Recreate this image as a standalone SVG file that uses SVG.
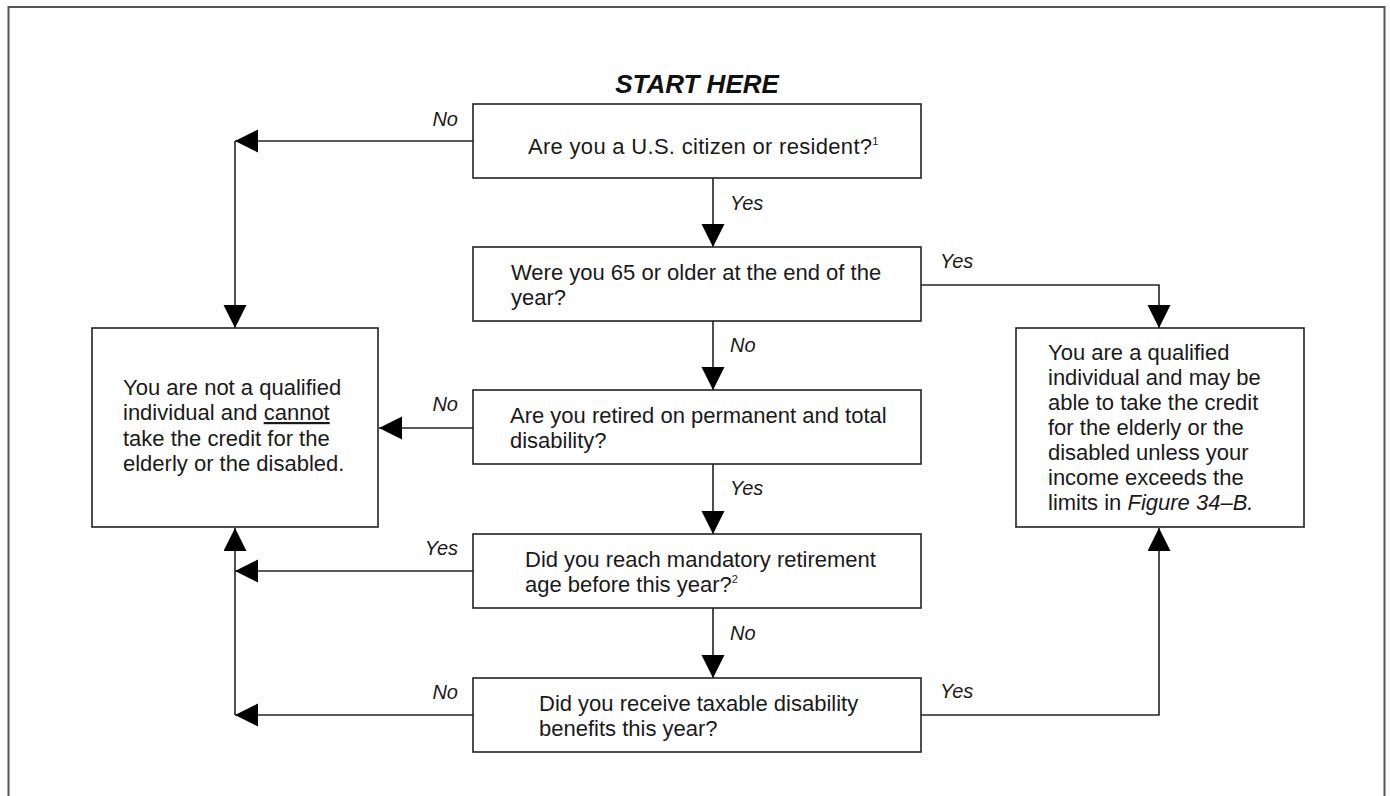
<svg xmlns="http://www.w3.org/2000/svg" width="1390" height="796" viewBox="0 0 1390 796">
<style>
.box{fill:#fff;stroke:#222;stroke-width:1.6}
.t{font-family:"Liberation Sans",Arial,sans-serif;font-size:22px;fill:#1a1a1a}
.lbl{font-family:"Liberation Sans",Arial,sans-serif;font-size:20px;font-style:italic;fill:#1a1a1a}
.sup{font-size:11px}
.c{fill:none;stroke:#222;stroke-width:1.6}
</style>
<defs>
<marker id="ah" markerUnits="userSpaceOnUse" markerWidth="24" markerHeight="24" refX="23" refY="11.5" orient="auto">
<path d="M0,0 L23,11.5 L0,23 z" fill="#000"/>
</marker>
</defs>
<rect width="1390" height="796" fill="#fff"/>
<path d="M8.5,800 V7 H1384.5 V800" fill="none" stroke="#555" stroke-width="2"/>
<text x="697" y="93" text-anchor="middle" style="font-family:'Liberation Sans',Arial,sans-serif;font-size:26px;font-weight:bold;font-style:italic;fill:#111">START HERE</text>

<g id="connectors">
<path class="c" d="M473,141 H235" marker-end="url(#ah)"/>
<path class="c" d="M235,141 V328" marker-end="url(#ah)"/>
<path class="c" d="M713,178 V247" marker-end="url(#ah)"/>
<path class="c" d="M921,285 H1159 V328" marker-end="url(#ah)"/>
<path class="c" d="M713,321 V390" marker-end="url(#ah)"/>
<path class="c" d="M473,428 H379" marker-end="url(#ah)"/>
<path class="c" d="M713,464 V534" marker-end="url(#ah)"/>
<path class="c" d="M473,571 H235" marker-end="url(#ah)"/>
<path class="c" d="M713,608 V678" marker-end="url(#ah)"/>
<path class="c" d="M473,715 H235" marker-end="url(#ah)"/>
<path class="c" d="M235,715 V528" marker-end="url(#ah)"/>
<path class="c" d="M921,715 H1159 V528" marker-end="url(#ah)"/>
<text class="lbl" x="458" y="126" text-anchor="end">No</text>
<text class="lbl" x="730" y="210">Yes</text>
<text class="lbl" x="940" y="268">Yes</text>
<text class="lbl" x="730" y="352">No</text>
<text class="lbl" x="458" y="411" text-anchor="end">No</text>
<text class="lbl" x="730" y="495">Yes</text>
<text class="lbl" x="458" y="555" text-anchor="end">Yes</text>
<text class="lbl" x="730" y="640">No</text>
<text class="lbl" x="458" y="699" text-anchor="end">No</text>
<text class="lbl" x="940" y="698">Yes</text>
</g>

<g id="q1">
<rect class="box" x="473" y="104" width="448" height="74"/>
<text class="t" x="528" y="154" letter-spacing="0.3">Are you a U.S. citizen or resident?<tspan class="sup" dy="-9">1</tspan></text>
</g>
<g id="q2">
<rect class="box" x="473" y="247" width="448" height="74"/>
<text class="t" x="511" y="280">Were you 65 or older at the end of the</text>
<text class="t" x="511" y="305">year?</text>
</g>
<g id="q3">
<rect class="box" x="473" y="390" width="448" height="74"/>
<text class="t" x="510" y="423">Are you retired on permanent and total</text>
<text class="t" x="510" y="448">disability?</text>
</g>
<g id="q4">
<rect class="box" x="473" y="534" width="448" height="74"/>
<text class="t" x="525" y="567">Did you reach mandatory retirement</text>
<text class="t" x="525" y="592">age before this year?<tspan class="sup" dy="-9">2</tspan></text>
</g>
<g id="q5">
<rect class="box" x="473" y="678" width="448" height="74"/>
<text class="t" x="539" y="711">Did you receive taxable disability</text>
<text class="t" x="539" y="736">benefits this year?</text>
</g>
<g id="not-qualified">
<rect class="box" x="92" y="328" width="286" height="199"/>
<text class="t" x="123" y="395">You are not a qualified</text>
<text class="t" x="123" y="420">individual and <tspan text-decoration="underline">cannot</tspan></text>
<text class="t" x="123" y="446">take the credit for the</text>
<text class="t" x="123" y="471">elderly or the disabled.</text>
</g>
<g id="qualified">
<rect class="box" x="1016" y="328" width="288" height="199"/>
<text class="t" x="1048" y="360">You are a qualified</text>
<text class="t" x="1048" y="385">individual and may be</text>
<text class="t" x="1048" y="410">able to take the credit</text>
<text class="t" x="1048" y="435">for the elderly or the</text>
<text class="t" x="1048" y="460">disabled unless your</text>
<text class="t" x="1048" y="485">income exceeds the</text>
<text class="t" x="1048" y="510">limits in <tspan font-style="italic">Figure 34–B.</tspan></text>
</g>
</svg>
